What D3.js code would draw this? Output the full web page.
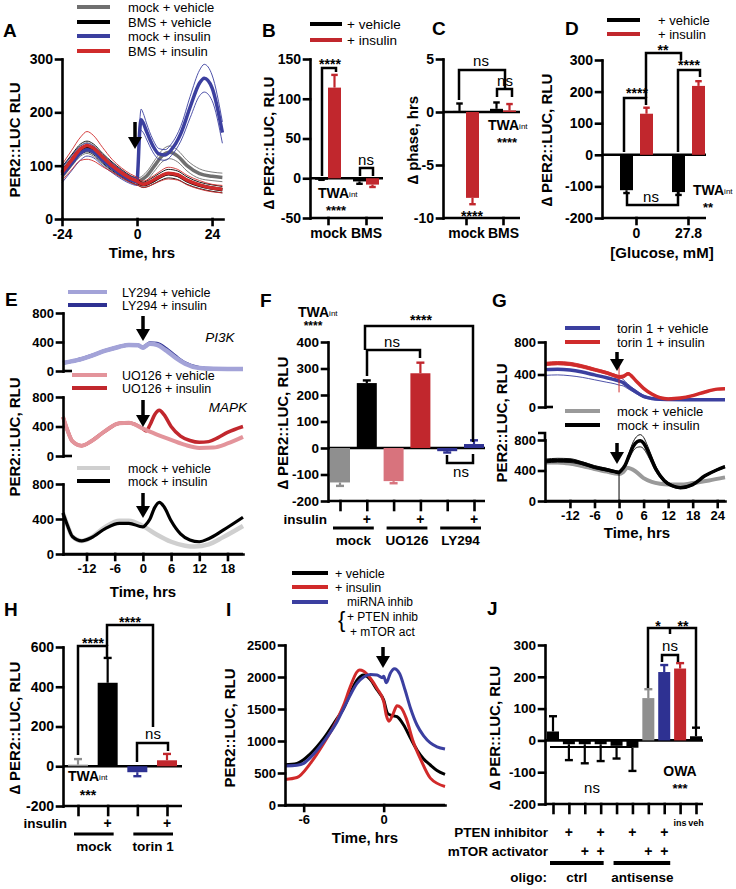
<!DOCTYPE html>
<html><head><meta charset="utf-8">
<script src="https://cdn.jsdelivr.net/npm/d3@7"></script>
<style>body{margin:0;background:#fff}</style>
</head><body><script>
// ================= DATA =================
// Panel A (hours, mean, sem)
const aMockVehH=[-24,-21,-18,-16,-14,-11,-8,-5,-2,0,1,3,6,8,10.5,13,16,20,24,27.3];
const aMockVehV=[85,108,128,133,128,112,97,84,74,70,72,80,103,118,125,118,100,85,80,78];
const aMockVehS=[10,10,10,10,10,9,8,7,6,6,6,8,10,11,12,11,10,9,8,8];
const aBmsVehH=[-24,-21,-18,-16,-14,-11,-8,-5,-2,0,1,2,4,7,10,13,16,20,24,27.3];
const aBmsVehV=[88,110,131,136,131,114,99,86,75,70,66,64,68,78,85,82,72,63,58,55];
const aBmsVehS=[10,10,10,10,10,9,8,7,6,6,5,5,6,7,8,8,7,6,6,6];
const aMockInsH=[-24,-21,-18,-16,-14,-11,-8,-5,-2,0,0.3,0.8,1.3,2,3,5,7,9,11,14,17,20,21.5,24,27.3];
const aMockInsV=[82,104,124,130,126,110,96,83,73,70,95,160,186,180,165,138,122,120,130,160,210,255,264,246,162];
const aMockInsS=[14,14,13,12,11,10,9,8,7,7,10,15,20,18,15,12,10,10,11,14,20,24,26,24,20];
const aBmsInsH=aBmsVehH;
const aBmsInsV=[87,110,132,138,133,116,100,87,76,71,67,65,69,79,86,83,73,64,58,56];
const aBmsInsS=[15,18,22,26,24,18,12,9,8,7,6,6,7,9,11,10,9,8,7,7];
const aLegend=["mock + vehicle","BMS + vehicle","mock + insulin","BMS + insulin"];

// Panel B
const bGroups=["mock","BMS"];
const bVeh=[-1,-4], bVehErr=[1,3], bIns=[114,-8], bInsErr=[16,3];
// Panel C
const cGroups=["mock","BMS"];
const cVeh=[0.1,0.3], cVehErr=[0.7,0.6], cIns=[-8.1,0.15], cInsErr=[0.6,0.6];
// Panel D
const dGroups=["0","27.8"];
const dVeh=[-112,-118], dVehErr=[9,9], dIns=[130,218], dInsErr=[19,15];

// Panel E
const eLyVehH=[-17,-14,-11,-8,-5,-3,-1,0,0.5,1.5,3,5,7,9,12,15,18,21.3];
const eLyVehV=[110,150,210,280,335,360,355,320,340,375,360,280,180,100,40,30,28,28];
const eLyInsV=[110,150,210,280,335,360,355,325,345,385,380,305,200,110,45,30,28,28];
const eUoVehH=[-17,-16,-15,-13,-11,-8,-5,-3,0,3,6,9,12,15,18,21.3];
const eUoVehV=[530,340,200,140,200,340,445,450,370,290,220,150,110,115,170,260];
const eUoInsH=[-17,-16,-15,-13,-11,-8,-5,-3,0,0.7,1.5,2.5,3.5,4.5,6,8,10,12,14,16,18,21.3];
const eUoInsV=[530,340,200,140,200,340,445,450,370,340,420,560,620,560,400,270,210,185,195,250,320,400];
const eMkVehH=[-17,-16,-15,-13,-11,-8,-5,-3,0,3,6,9,11,14,17,21.3];
const eMkVehV=[470,320,200,150,190,310,380,380,320,220,140,95,85,110,190,320];
const eMkInsH=[-17,-16,-15,-13,-11,-8,-5,-3,0,0.7,1.5,2.5,3.5,4.5,6,8,10,12,14,17,21.3];
const eMkInsV=[470,320,200,150,185,290,350,350,310,340,400,530,590,540,380,230,160,140,175,270,420];
const eTicks=[-12,-6,0,6,12,18];

// Panel F
const fLabels=["mock","mock+","UO126","UO126+","LY294","LY294+"];
const fVals=[-130,245,-125,282,-12,15];
const fErr=[13,10,8,40,5,14];
const fColors=["#8f8f8f","#000000","#d8737d","#c1272d","#2e3192","#2e3192"];
const fInsulin=[0,1,0,1,0,1];
const fGroupNames=["mock","UO126","LY294"];

// Panel G
const gTorVehH=[-18,-15,-12,-9,-6,-3,-1,0,1,2,4,6,8,10,12,16,20,25.9];
const gTorVehV=[460,465,455,430,395,360,335,320,300,260,190,130,105,95,92,90,90,90];
const gTorVehS=[70,70,70,65,60,55,50,50,40,30,20,15,10,10,10,10,10,10];
const gTorInsH=[-18,-15,-12,-9,-6,-3,-1,0,1,2.2,4,6,8,10,12,15,18,21,24,25.9];
const gTorInsV=[530,540,530,500,460,420,385,370,375,410,330,230,160,115,100,110,140,185,220,225];
const gTorInsS=[20,20,20,20,18,18,18,18,18,15,12,10,8,8,8,8,8,8,8,8];
const gMkVehH=[-18,-15,-12,-9,-6,-3,-1,0,1,2,4,6,8,10,12,15,18,22,25.9];
const gMkVehV=[505,505,490,460,420,385,360,355,380,435,390,300,250,225,215,215,235,270,310];
const gMkVehS=[15,15,15,15,12,12,10,10,10,10,10,10,8,8,8,8,8,8,8];
const gMkInsH=[-18,-15,-12,-9,-6,-3,-1,0,0.5,1.5,2.5,3.5,4.5,5.2,6,7,9,11,13,15,18,21,24,25.9];
const gMkInsV=[525,535,530,495,445,410,385,375,400,470,600,720,780,790,760,660,420,270,200,175,215,330,410,450];
const gMkInsS=[25,25,25,20,20,18,15,15,15,20,40,60,75,80,75,60,35,20,15,12,12,12,12,12];
const gTicks=[-12,-6,0,6,12,18,24];

// Panel H
const hLabels=["mock","mock+","torin","torin+"];
const hVals=[8,420,-30,30];
const hErr=[28,125,20,32];
const hColors=["#8f8f8f","#000000","#2e3192","#c1272d"];
const hInsulin=[0,1,0,1];

// Panel I
const iVehH=[-7.4,-6.5,-5.5,-4.5,-3.5,-3,-2.5,-2,-1.5,-1,-0.5,0,0.3,0.6,1,1.5,2,2.5,3,3.5,4,4.6];
const iVehV=[630,650,800,1040,1350,1510,1750,1950,2030,1960,1800,1640,1430,1400,1380,1250,1050,860,720,625,540,480];
const iInsH=[-7.4,-6.5,-5.5,-4.5,-3.5,-3,-2.5,-2,-1.8,-1.5,-1,-0.5,0,0.2,0.4,0.7,1,1.3,1.7,2.2,2.8,3.5,4.6];
const iInsV=[400,430,650,960,1330,1560,1850,2080,2110,2090,1980,1820,1620,1400,1310,1420,1550,1520,1350,1000,700,420,290];
const iMiH=[-7.4,-6.5,-6,-5.5,-4.5,-3.5,-3,-2.5,-2,-1.5,-1,-0.5,-0.1,0,0.2,0.5,0.8,1.2,1.6,2,2.5,3,3.5,4,4.6];
const iMiV=[610,620,650,740,990,1300,1510,1720,1900,2000,2040,2030,1990,2010,1910,2060,2130,2050,1800,1520,1250,1080,970,910,875];

// Panel J
const jVals=[28,-12,-12,-12,-17,-23,133,215,226,13];
const jErr=[48,50,60,53,40,73,28,22,17,27];
const jColors=["#000","#000","#000","#000","#000","#000","#8f8f8f","#2e3192","#c1272d","#000"];
const jPten=[0,1,0,1,0,1,0,1,0,0];
const jMtor=[0,0,1,1,0,0,1,1,0,0];
const jSmall=["","","","","","","","","ins","veh"];

// ================= DRAWING =================
const FONT="'Liberation Sans', Arial, Helvetica, sans-serif";
const svg=d3.select("body").append("svg").attr("width",736).attr("height",889).style("background","#fff");

function txt(x,y,s,o={}){
  const t=svg.append("text").attr("x",x).attr("y",y).text(s)
    .attr("font-family",FONT).attr("font-size",o.size||14)
    .attr("font-weight",o.weight||"bold").attr("fill",o.fill||"#000")
    .attr("text-anchor",o.anchor||"start");
  if(o.italic) t.attr("font-style","italic");
  if(o.rot) t.attr("transform",`rotate(-90,${x},${y})`);
  return t;
}
function ylab(x,y,s,size=15){ txt(x,y,s,{anchor:"middle",rot:true,size}); }
function letter(x,y,s){ txt(x,y,s,{size:19}); }
function styleAxis(g,size){
  g.selectAll("path,line").attr("stroke","#000").attr("stroke-width",2.6).attr("stroke-linecap","square");
  g.selectAll("text").attr("font-family",FONT).attr("font-weight","bold").attr("font-size",size).attr("fill","#000");
}
const fmt=d=>String(d);
function leftAxis(x,y,ticks,size=14){
  const g=svg.append("g").attr("transform",`translate(${x},0)`)
    .call(d3.axisLeft(y).tickValues(ticks).tickSize(6).tickSizeOuter(0).tickPadding(3).tickFormat(fmt));
  styleAxis(g,size); return g;
}
function bottomAxis(yPos,x,ticks,size=14,tick=6,f=fmt){
  const g=svg.append("g").attr("transform",`translate(0,${yPos})`)
    .call(d3.axisBottom(x).tickValues(ticks).tickSize(tick).tickSizeOuter(0).tickPadding(4).tickFormat(f));
  styleAxis(g,size); return g;
}
function path(d,w=2.5,c="#000"){ svg.append("path").attr("d",d).attr("fill","none").attr("stroke",c).attr("stroke-width",w); }
function hline(x1,x2,y,w=2.6,c="#000"){ path(`M${x1},${y}H${x2}`,w,c); }
function arrow(x,y1,y2){
  path(`M${x},${y1}V${y2-9}`,3.5);
  svg.append("path").attr("d",`M${x-7},${y2-12}L${x+7},${y2-12}L${x},${y2}Z`).attr("fill","#000");
}
function curve(x,y,H,V,color,w){
  const pts=H.map((h,i)=>[h,V[i]]);
  svg.append("path").datum(pts)
    .attr("d",d3.line().x(d=>x(d[0])).y(d=>y(d[1])).curve(d3.curveMonotoneX))
    .attr("fill","none").attr("stroke",color).attr("stroke-width",w).attr("stroke-linejoin","round");
}
function curveSem(x,y,H,V,S,color,w){
  curve(x,y,H,V.map((v,i)=>v+S[i]),color,0.9);
  curve(x,y,H,V.map((v,i)=>v-S[i]),color,0.9);
  curve(x,y,H,V,color,w);
}
function bar(x0,w,y,v,err,color,capW){
  const top=Math.min(y(0),y(v)), h=Math.abs(y(v)-y(0));
  svg.append("rect").attr("x",x0).attr("y",top).attr("width",w).attr("height",Math.max(h,1.5)).attr("fill",color);
  const cx=x0+w/2, e=v>=0? v+err : v-err;
  path(`M${cx},${y(v)}V${y(e)}`,2.2,color);
  path(`M${cx-(capW||w/4)},${y(e)}H${cx+(capW||w/4)}`,2.4,color);
}
function legendLine(x1,x2,yy,color,label,tx,size=13){
  hline(x1,x2,yy,4,color);
  txt(tx,yy+5,label,{weight:"normal",size});
}
function twa(x,y,stars,sub="int"){
  const t=txt(x,y,"TWA",{size:14});
  t.append("tspan").text(sub).attr("font-size",8).attr("font-weight","normal").attr("dy",-1);
}

const GRAY="#6f6f6f", BLUE="#3b3f9f", RED="#d02b2b", BARRED="#c1272d";

// ---------- Panel A ----------
letter(3,37,"A");
const ax=d3.scaleLinear([-24,27.5],[62,223]);
const ay=d3.scaleLinear([0,300],[219,59]);
curveSem(ax,ay,aMockVehH,aMockVehV,aMockVehS,GRAY,3.5);
curveSem(ax,ay,aBmsVehH,aBmsVehV,aBmsVehS,"#000",3.5);
curveSem(ax,ay,aMockInsH,aMockInsV,aMockInsS,BLUE,3.5);
curveSem(ax,ay,aBmsInsH,aBmsInsV,aBmsInsS,RED,3.5);
leftAxis(62,ay,[0,100,200,300],14);
bottomAxis(219,ax,[-24,0,24],14);
ylab(20,140,"PER2::LUC RLU",15);
txt(142,258,"Time, hrs",{anchor:"middle",size:15});
arrow(135,122,149);
[GRAY,"#000",BLUE,RED].forEach((c,i)=>legendLine(77,110,[7,22,36,51][i],c,aLegend[i],128,13));

// ---------- Panel B ----------
letter(262,37,"B");
const by=d3.scaleLinear([-50,150],[218,59]);
const bx=d3.scalePoint(bGroups,[328,366]);
hline(310,383,by(0));
bGroups.forEach((g,i)=>{
  bar(bx(g)-13,13,by,bVeh[i],bVehErr[i],"#000");
  bar(bx(g),13,by,bIns[i],bInsErr[i],BARRED);
});
leftAxis(310,by,[-50,0,50,100,150],14);
hline(310,383,218);
bottomAxis(218,bx,bGroups,14,6).select(".domain").remove();
ylab(274,143,"\u2206 PER2::LUC, RLU",15);
legendLine(310,342,24,"#000","+ vehicle",347,13.5);
legendLine(310,342,40,BARRED,"+ insulin",347,13.5);
path("M322,176V68H336V72");
txt(330,69,"****",{anchor:"middle",size:14});
path("M360,176V168H373V176");
txt(366,165,"ns",{anchor:"middle",size:15,weight:"normal"});
twa(318,198);
txt(336,215,"****",{anchor:"middle",size:13});

// ---------- Panel C ----------
letter(432,35,"C");
const cy=d3.scaleLinear([-10,5],[218,59]);
const cx=d3.scalePoint(cGroups,[466,503]);
hline(443,520,cy(0));
cGroups.forEach((g,i)=>{
  bar(cx(g)-13,13,cy,cVeh[i],cVehErr[i],"#000");
  bar(cx(g),13,cy,cIns[i],cInsErr[i],BARRED);
});
leftAxis(443,cy,[-10,-5,0,5],14);
hline(443,520,218);
bottomAxis(218,cx,cGroups,14,6).select(".domain").remove();
ylab(418,140,"\u2206 phase, hrs",15);
path("M459,100V70H505V88");
txt(481,66,"ns",{anchor:"middle",size:15,weight:"normal"});
path("M497,97V89H512V97");
txt(505,86,"ns",{anchor:"middle",size:15,weight:"normal"});
twa(488,130);
txt(507,147,"****",{anchor:"middle",size:13});
txt(472,221,"****",{anchor:"middle",size:14});

// ---------- Panel D ----------
letter(565,35,"D");
const dy=d3.scaleLinear([-200,300],[218,60]);
const dx=d3.scalePoint(dGroups,[636,688]);
hline(602,706,dy(0));
dGroups.forEach((g,i)=>{
  bar(dx(g)-16,13,dy,dVeh[i],dVehErr[i],"#000");
  bar(dx(g)+4,13,dy,dIns[i],dInsErr[i],BARRED);
});
leftAxis(602,dy,[-200,-100,0,100,200,300],14);
hline(602,706,218);
bottomAxis(218,dx,dGroups,14,6).select(".domain").remove();
ylab(552,140,"\u2206 PER2::LUC, RLU",15);
txt(662,258,"[Glucose, mM]",{anchor:"middle",size:15});
legendLine(607,640,20,"#000","+ vehicle",658,13);
legendLine(607,640,34,BARRED,"+ insulin",658,13);
path("M624,152V98H646V105");
txt(637,98,"****",{anchor:"middle",size:14});
path("M678,152V70H700V77");
txt(689,70,"****",{anchor:"middle",size:14});
path("M646,98V53H681V60");
txt(663,55,"**",{anchor:"middle",size:14});
path("M627,192V205H678V192");
txt(651,202,"ns",{anchor:"middle",size:15,weight:"normal"});
twa(693,195);
txt(708,212,"**",{anchor:"middle",size:13});

// ---------- Panel E ----------
letter(5,306,"E");
const ex=d3.scaleLinear([-17,21.3],[63,243]);
const ey1=d3.scaleLinear([0,800],[371,313]);
const ey2=d3.scaleLinear([0,800],[456,397]);
const ey3=d3.scaleLinear([0,800],[554,484]);
const LYV="#a3a3d8", LYI="#2e3192", UOV="#e3949b", UOI="#c1272d", MKV="#cfcfcf", MKI="#000";
curve(ex,ey1,eLyVehH,eLyInsV,LYI,3.5);
curve(ex,ey1,eLyVehH,eLyVehV,LYV,4.5);
curve(ex,ey2,eUoInsH,eUoInsV,UOI,3.5);
curve(ex,ey2,eUoVehH,eUoVehV,UOV,4);
curve(ex,ey3,eMkVehH,eMkVehV,MKV,4.5);
curve(ex,ey3,eMkInsH,eMkInsV,MKI,3.2);
leftAxis(63,ey1,[0,400,800],13); hline(63,72,ey1(0));
leftAxis(63,ey2,[0,400,800],13); hline(63,72,ey2(0));
leftAxis(63,ey3,[0,400,800],13);
bottomAxis(554,ex,eTicks,13,6);
hline(63,243,554);
ylab(20,437,"PER2::LUC, RLU",15);
txt(143,597,"Time, hrs",{anchor:"middle",size:15});
legendLine(68,107,292,LYV,"LY294 + vehicle",122,12.5);
legendLine(68,107,305,LYI,"LY294 + insulin",122,12.5);
legendLine(72,107,375,UOV,"UO126 + vehicle",122,12.5);
legendLine(72,107,388,UOI,"UO126 + insulin",122,12.5);
legendLine(77,110,468,MKV,"mock + vehicle",128,12.5);
legendLine(77,110,481,MKI,"mock + insulin",128,12.5);
txt(220,342,"PI3K",{anchor:"middle",size:13.5,weight:"normal",italic:true});
txt(228,412,"MAPK",{anchor:"middle",size:13.5,weight:"normal",italic:true});
arrow(143,316,341);
arrow(143,400,427);
arrow(143,493,518);

// ---------- Panel F ----------
letter(260,307,"F");
const fy=d3.scaleLinear([-200,400],[501,342]);
const fx=d3.scalePoint(fLabels,[340,474]);
hline(328,485,fy(0));
fLabels.forEach((l,i)=>bar(fx(l)-10,20,fy,fVals[i],fErr[i],fColors[i],4));
leftAxis(328,fy,[-200,-100,0,100,200,300,400],13.5);
hline(328,485,501);
bottomAxis(501,fx,fLabels,13,9,()=>"").select(".domain").remove();
txt(327,524,"insulin",{anchor:"end",size:13.5});
fLabels.forEach((l,i)=>{ if(fInsulin[i]) txt(fx(l),524,"+",{anchor:"middle",size:14}); });
fGroupNames.forEach((g,i)=>{
  const x1=fx(fLabels[2*i])-7, x2=fx(fLabels[2*i+1])+7;
  hline(x1,x2,528,3);
  txt((x1+x2)/2,545,g,{anchor:"middle",size:13.5});
});
ylab(288,423,"\u2206 PER2::LUC, RLU",15);
path("M367,376V350H420V358");
txt(392,347,"ns",{anchor:"middle",size:15,weight:"normal"});
path("M365,350V326H473V442");
txt(421,325,"****",{anchor:"middle",size:14});
path("M447,455V463H473V454");
txt(461,477,"ns",{anchor:"middle",size:15,weight:"normal"});
twa(298,317);
txt(313,330,"****",{anchor:"middle",size:12});

// ---------- Panel G ----------
letter(492,307,"G");
const gx=d3.scaleLinear([-18.1,25.9],[545,725]);
const gy1=d3.scaleLinear([0,800],[407,342]);
const gy2=d3.scaleLinear([0,800],[501,440]);
curveSem(gx,gy1,gTorVehH,gTorVehV,gTorVehS,BLUE,3.5);
curveSem(gx,gy1,gTorInsH,gTorInsV,gTorInsS,RED,3.5);
path(`M${gx(0)},${gy1(500)}V${gy1(180)}`,1,RED);
curveSem(gx,gy2,gMkVehH,gMkVehV,gMkVehS,"#9a9a9a",4);
curveSem(gx,gy2,gMkInsH,gMkInsV,gMkInsS,"#000",3.5);
path(`M${gx(0)},${gy2(380)}V${gy2(0)}`,1,"#000");
leftAxis(545,gy1,[0,400,800],13); hline(545,553,gy1(0));
leftAxis(545,gy2,[0,400,800],13);
path(`M545,${gy2(800)}V433H538`,2.6);
bottomAxis(501,gx,gTicks,13,6);
hline(545,725,501);
ylab(507,423,"PER2::LUC, RLU",15);
txt(637,538,"Time, hrs",{anchor:"middle",size:15});
legendLine(565,600,328,BLUE,"torin 1 + vehicle",617,13);
legendLine(565,600,342,RED,"torin 1 + insulin",617,13);
legendLine(565,600,411,"#9a9a9a","mock + vehicle",617,13);
legendLine(565,600,425,"#000","mock + insulin",617,13);
arrow(617,352,371);
arrow(617,443,464);

// ---------- Panel H ----------
letter(4,616,"H");
const hy=d3.scaleLinear([-200,600],[806,647]);
const hx=d3.scalePoint(hLabels,[78,167]);
hline(63,182,hy(0));
hLabels.forEach((l,i)=>bar(hx(l)-10,20,hy,hVals[i],hErr[i],hColors[i],4));
leftAxis(63,hy,[-200,0,200,400,600],14);
hline(63,182,806);
bottomAxis(806,hx,hLabels,13,9,()=>"").select(".domain").remove();
txt(67,828,"insulin",{anchor:"end",size:13.5});
hLabels.forEach((l,i)=>{ if(hInsulin[i]) txt(hx(l),828,"+",{anchor:"middle",size:14}); });
[["mock",0],["torin 1",2]].forEach(([g,k])=>{
  const x1=hx(hLabels[k])-4, x2=hx(hLabels[k+1])+6;
  hline(x1,x2,834,3);
  txt((x1+x2)/2,851,g,{anchor:"middle",size:13.5});
});
ylab(20,728,"\u2206 PER2::LUC, RLU",15);
path("M78,755V646H107V657");
txt(93,648,"****",{anchor:"middle",size:14});
path("M107,646V625H153V727");
txt(130,627,"****",{anchor:"middle",size:14});
path("M137,762V743H168V751");
txt(153,739,"ns",{anchor:"middle",size:15,weight:"normal"});
twa(68,781);
txt(88,800,"***",{anchor:"middle",size:14});

// ---------- Panel I ----------
letter(226,616,"I");
const ix=d3.scaleLinear([-7.4,4.6],[285,445]);
const iy=d3.scaleLinear([0,2500],[805,645]);
curve(ix,iy,iVehH,iVehV,"#000",3);
curve(ix,iy,iInsH,iInsV,"#d12a2a",3);
curve(ix,iy,iMiH,iMiV,"#3b3fa0",3);
leftAxis(285,iy,[0,500,1000,1500,2000,2500],13);
bottomAxis(805,ix,[-6,0],13,6);
hline(285,445,805);
ylab(235,728,"PER2::LUC, RLU",15);
txt(365,843,"Time, hrs",{anchor:"middle",size:15});
arrow(383,647,668);
legendLine(292,328,573,"#000","+ vehicle",335,12.5);
legendLine(292,328,587,"#d12a2a","+ insulin",335,12.5);
legendLine(292,328,602,"#3b3fa0","",335,12.5);
txt(347,606,"miRNA inhib",{weight:"normal",size:12});
txt(338,627,"{",{weight:"normal",size:22});
txt(347,621,"+ PTEN inhib",{weight:"normal",size:12});
txt(350,636,"+ mTOR act",{weight:"normal",size:12});

// ---------- Panel J ----------
letter(487,615,"J");
const jy=d3.scaleLinear([-200,300],[804,645]);
const jx=d3.scalePoint(d3.range(jVals.length),[553,696]);
hline(545,703,jy(0));
jVals.forEach((v,i)=>bar(jx(i)-6,12,jy,v,jErr[i],jColors[i],4));
leftAxis(545,jy,[-200,-100,0,100,200,300],13.5);
hline(545,703,804);
bottomAxis(804,jx,d3.range(jVals.length),13,9,()=>"").select(".domain").remove();
ylab(500,728,"\u2206 PER::LUC, RLU",15);
txt(548,837,"PTEN inhibitor",{anchor:"end",size:13.5});
txt(548,856,"mTOR activator",{anchor:"end",size:13.5});
jVals.forEach((v,i)=>{
  if(jPten[i]) txt(jx(i),837,"+",{anchor:"middle",size:14});
  if(jMtor[i]) txt(jx(i),856,"+",{anchor:"middle",size:14});
  if(jSmall[i]) txt(jx(i),826,jSmall[i],{anchor:"middle",size:9});
});
hline(jx(0)-3,jx(3)+3,863,4);
hline(jx(4)-3,jx(7)+6,863,4);
txt(547,882,"oligo:",{anchor:"end",size:13.5});
txt((jx(0)+jx(3))/2,882,"ctrl",{anchor:"middle",size:13.5});
txt((jx(4)+jx(7))/2+2,882,"antisense",{anchor:"middle",size:13.5});
path("M550,747H632",2);
txt(592,793,"ns",{anchor:"middle",size:15,weight:"normal"});
txt(680,776,"OWA",{anchor:"middle",size:14});
txt(680,793,"***",{anchor:"middle",size:13});
path("M648,688V628H696V727");
path("M670,628V634");
txt(658,631,"*",{anchor:"middle",size:14});
txt(683,631,"**",{anchor:"middle",size:14});
path("M662,662V655H678V662");
txt(670,651,"ns",{anchor:"middle",size:15,weight:"normal"});
</script></body></html>
